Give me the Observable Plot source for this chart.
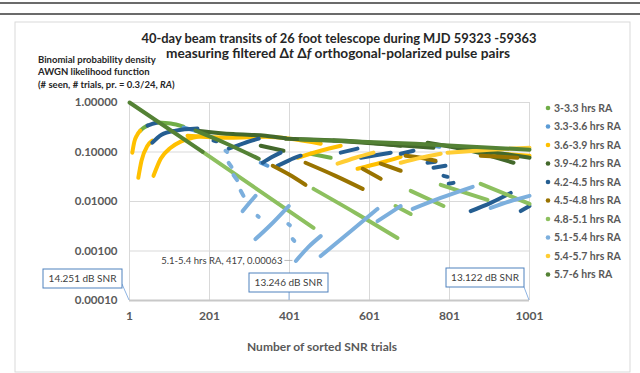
<!DOCTYPE html>
<html><head><meta charset="utf-8">
<script src="https://cdn.jsdelivr.net/npm/d3@7"></script>
<script src="https://cdn.jsdelivr.net/npm/@observablehq/plot@0.6"></script>
<style>
body{margin:0;background:#fff;}
#chart{position:relative;width:640px;height:373px;overflow:hidden;}
svg text{font-family:Lato,"Open Sans",sans-serif;}
</style></head><body><div id="chart"></div>
<script>
const seriesNames = ["3-3.3 hrs RA","3.3-3.6 hrs RA","3.6-3.9 hrs RA","3.9-4.2 hrs RA","4.2-4.5 hrs RA","4.5-4.8 hrs RA","4.8-5.1 hrs RA","5.1-5.4 hrs RA","5.4-5.7 hrs RA","5.7-6 hrs RA"];
const seriesColors = ["#70AD47","#5B9BD5","#FFC000","#43682B","#255E91","#997300","#8DC05F","#7CAFDD","#FFCD33","#548235"];
const xTicks = [1,201,401,601,801,1001];
const yTicks = [0.0001,0.001,0.01,0.1,1];
const yTickLabels = ["0.00010","0.00100","0.01000","0.10000","1.00000"];

// each series: list of visible segments, each a list of [trials, probability]
const ra30 = [
  [[28,0.270],[37,0.31],[46,0.341]],
  [[71,0.393],[104,0.375],[136,0.326]],
  [[454,0.0924],[504,0.0766]]
];
const ra33 = [
  [[136,0.311],[151,0.29],[166,0.270]],
  [[329,0.0607],[346,0.0527]],
  [[761,0.134],[776,0.128]]
];
const ra36 = [
  [[8,0.097],[13,0.16],[20,0.22],[28,0.270]],
  [[23,0.0301],[31,0.0666],[46,0.134],[58,0.170]],
  [[61,0.033],[79,0.073],[104,0.122],[129,0.162],[161,0.195],[196,0.224]],
  [[146,0.214],[253,0.195],[341,0.204],[479,0.147]],
  [[421,0.0766],[479,0.106],[529,0.134]],
  [[571,0.0458],[629,0.0607],[679,0.080]],
  [[896,0.097],[1001,0.084]]
];
const ra39 = [
  [[171,0.270],[260,0.23],[341,0.214],[391,0.19]],
  [[329,0.134],[386,0.106]],
  [[391,0.186],[529,0.170],[679,0.134]],
  [[511,0.170],[761,0.122]],
  [[746,0.154],[854,0.106],[961,0.0607]],
  [[821,0.122],[916,0.097],[1001,0.0766]]
];
const ra42 = [
  [[46,0.341],[58,0.37],[71,0.393]],
  [[58,0.154],[81,0.224],[116,0.270],[171,0.297]],
  [[211,0.170],[218,0.165]],
  [[249,0.117],[286,0.150],[324,0.186]],
  [[334,0.0607],[356,0.078],[379,0.097]],
  [[371,0.0527],[400,0.068],[429,0.084]],
  [[529,0.097],[571,0.117]],
  [[579,0.0766],[654,0.097]],
  [[679,0.0924],[711,0.106]],
  [[746,0.0607],[766,0.0634]],
  [[761,0.0481],[791,0.0527]],
  [[786,0.033],[796,0.0315]],
  [[799,0.0228],[811,0.0238]],
  [[854,0.0064],[904,0.0094],[954,0.0149]],
  [[979,0.0064],[1001,0.0081]]
];
const ra45 = [
  [[359,0.0527],[400,0.035],[441,0.0217]],
  [[441,0.0607],[516,0.033],[584,0.0180]],
  [[584,0.0458],[629,0.0287]],
  [[629,0.058],[679,0.0418]],
  [[691,0.084],[729,0.0766],[766,0.0666]],
  [[879,0.084],[971,0.0766]]
];
const ra48 = [
  [[184,0.101],[461,0.00292]],
  [[461,0.0180],[566,0.00587],[671,0.00183]],
  [[666,0.0081],[704,0.0056]],
  [[704,0.0164],[786,0.0081]],
  [[779,0.0217],[896,0.0108]],
  [[879,0.0228],[1001,0.00894]]
];
const ra51 = [
  [[241,0.106],[245,0.100]],
  [[249,0.060],[256,0.050]],
  [[261,0.034],[270,0.027]],
  [[279,0.0165],[286,0.013]],
  [[284,0.0064],[300,0.0092],[316,0.0130]],
  [[321,0.0051],[324,0.0049]],
  [[316,0.00174],[351,0.0032],[399,0.0081]],
  [[398,0.00351],[402,0.0033]],
  [[409,0.00174],[413,0.0016]],
  [[417,0.00063],[448,0.0012],[479,0.0020]],
  [[479,0.00079],[554,0.0025],[621,0.00708]],
  [[621,0.0040],[650,0.0057],[679,0.0081]],
  [[709,0.00708],[779,0.0118],[859,0.0198]],
  [[904,0.0074],[950,0.0100],[1001,0.013]]
];
const ra54 = [
  [[521,0.058],[566,0.0766],[611,0.097]],
  [[679,0.0607],[729,0.0766],[779,0.0924]],
  [[796,0.097],[903,0.111],[1001,0.122]]
];
const ra57 = [
  [[1,1.0],[184,0.101]],
  [[166,0.270],[244,0.147],[324,0.073]],
  [[429,0.178],[716,0.147],[1001,0.111]]
];
const seriesSegments = [ra30,ra33,ra36,ra39,ra42,ra45,ra48,ra51,ra54,ra57];

const labelPoint = {x: 417, y: 0.00063, text: "5.1-5.4 hrs RA, 417, 0.00063"};
const snrBoxes = [
  {text: "14.251 dB SNR", x: 1, y: 0.0001},
  {text: "13.246 dB SNR", x: 401, y: 0.0001},
  {text: "13.122 dB SNR", x: 1001, y: 0.0001}
];

const rows = [];
seriesSegments.forEach((segs, si) => segs.forEach((seg, gi) => seg.forEach(([x, y]) =>
  rows.push({series: seriesNames[si], seg: si + "-" + gi, x, y}))));

const plot = Plot.plot({
  width: 640, height: 373,
  marginLeft: 129, marginRight: 111, marginTop: 102, marginBottom: 73,
  x: {domain: [1, 1001]},
  y: {type: "log", domain: [0.0001, 1]},
  color: {domain: seriesNames, range: seriesColors},
  style: {fontFamily: "Lato, sans-serif", background: "white", overflow: "visible"},
  marks: [
    Plot.gridY(yTicks, {stroke: "#D9D9D9", strokeOpacity: 1, strokeWidth: 1}),
    Plot.gridX(xTicks, {stroke: "#D9D9D9", strokeOpacity: 1, strokeWidth: 1}),
    Plot.ruleY([0.0001], {stroke: "#C8C8C8", strokeWidth: 2}),
    Plot.axisY(yTicks, {tickFormat: d => yTickLabels[yTicks.indexOf(d)], tickSize: 0, tickPadding: 12, fontSize: 11.5, fontWeight: "bold", fill: "#595959", label: null}),
    Plot.axisX(xTicks, {tickFormat: d => String(d), tickSize: 0, tickPadding: 11, fontSize: 12, fontWeight: "bold", fill: "#595959", label: null}),
    Plot.line(rows, {x: "x", y: "y", z: "seg", stroke: "series", strokeWidth: 4, strokeLinecap: "round", strokeLinejoin: "round", curve: "monotone-x"})
  ]
});
document.getElementById("chart").appendChild(plot);

const svg = d3.select(plot);
const sx = plot.scale("x"), sy = plot.scale("y");
const px = v => sx.apply(v), py = v => sy.apply(v);

// page rules and chart frame
svg.insert("rect", ":first-child").attr("x",15).attr("y",22).attr("width",615).attr("height",350).attr("fill","white").attr("stroke","#D9D9D9");
svg.append("line").attr("x1",0).attr("x2",640).attr("y1",3).attr("y2",3).attr("stroke","#3a3a3a").attr("stroke-width",1.5);
svg.append("line").attr("x1",0).attr("x2",640).attr("y1",14).attr("y2",14).attr("stroke","#3a3a3a").attr("stroke-width",1.5);

// title
const title = svg.append("g").attr("fill","#262626").attr("font-weight","bold").attr("font-size",13.5).attr("text-anchor","middle");
title.append("text").attr("x",339).attr("y",43).attr("textLength",395).attr("lengthAdjust","spacingAndGlyphs").text("40-day beam transits of 26 foot telescope during MJD 59323 -59363");
const t2 = title.append("text").attr("x",338).attr("y",58).attr("textLength",344).attr("lengthAdjust","spacingAndGlyphs");
t2.append("tspan").text("measuring filtered Δ");
t2.append("tspan").attr("font-style","italic").text("t");
t2.append("tspan").text(" Δ");
t2.append("tspan").attr("font-style","italic").text("f");
t2.append("tspan").text(" orthogonal-polarized pulse pairs");

// y label
const yl = svg.append("g").attr("fill","#262626").attr("font-weight","bold").attr("font-size",9.5).attr("text-anchor","start");
yl.append("text").attr("x",38).attr("y",63).text("Binomial probability density");
yl.append("text").attr("x",38).attr("y",75).text("AWGN likelihood function");
const yl3 = yl.append("text").attr("x",38).attr("y",88);
yl3.append("tspan").text("(# seen, # trials, pr. = 0.3/24, ");
yl3.append("tspan").attr("font-style","italic").text("RA");
yl3.append("tspan").text(")");

// x label
svg.append("text").attr("x",322).attr("y",351).attr("text-anchor","middle").attr("font-weight","bold").attr("font-size",12).attr("fill","#595959").text("Number of sorted SNR trials");

// legend
const lg = svg.append("g").attr("text-anchor","start");
seriesNames.forEach((n, i) => {
  const y = 108 + i * 18.5;
  lg.append("circle").attr("cx",548).attr("cy",y).attr("r",2.3).attr("fill",seriesColors[i]);
  lg.append("text").attr("x",554).attr("y",y+3.8).attr("font-size",10.5).attr("font-weight","bold").attr("fill","#595959").text(n);
});

// data label
const lx = px(labelPoint.x), ly = py(labelPoint.y);
svg.append("line").attr("x1",lx-11).attr("x2",lx-3).attr("y1",ly).attr("y2",ly).attr("stroke","#A6A6A6").attr("stroke-width",0.8);
svg.append("text").attr("x",lx-13).attr("y",ly+3.3).attr("text-anchor","end").attr("font-size",9.5).attr("fill","#404040").text(labelPoint.text);

// SNR call-out boxes
const boxes = [[43,269,79,19],[249,273,79,19],[446,268,78,19]];
snrBoxes.forEach((b, i) => {
  const [bx, by, bw, bh] = boxes[i];
  const tx = px(b.x), ty = py(b.y);
  let ax, ay;
  if (i === 0) { ax = bx + bw; ay = by + bh - 4; }
  else if (i === 1) { ax = tx; ay = by + bh; }
  else { ax = bx + bw; ay = by + bh; }
  svg.append("line").attr("x1",ax).attr("y1",ay).attr("x2",tx).attr("y2",ty).attr("stroke","#8EB4E3").attr("stroke-width",1);
  svg.append("rect").attr("x",bx).attr("y",by).attr("width",bw).attr("height",bh).attr("fill","white").attr("stroke","#4F81BD").attr("stroke-width",1);
  svg.append("text").attr("x",bx+bw/2).attr("y",by+bh/2+3.5).attr("text-anchor","middle").attr("font-size",10).attr("fill","#404040").text(b.text);
});
</script></body></html>
